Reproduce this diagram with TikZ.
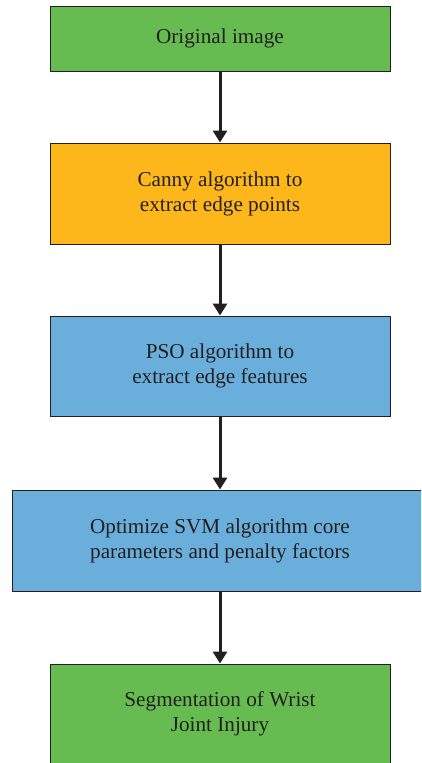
\documentclass[tikz,border=0pt]{standalone}
\usepackage{fontspec}
\setmainfont{Liberation Serif}
\usetikzlibrary{arrows.meta}
\definecolor{gbox}{HTML}{66BC50}
\definecolor{obox}{HTML}{FDB71B}
\definecolor{bbox}{HTML}{6AAEDC}
\definecolor{ink}{HTML}{231F20}
\begin{document}
\begin{tikzpicture}[x=1pt,y=-1pt,
  box/.style={draw=ink,line width=1pt,minimum width=340pt,minimum height=100pt,inner sep=0pt,
    align=center,font=\fontsize{21.2}{25}\selectfont,text=ink},
  conn/.style={draw=ink,line width=3pt,-{Triangle[width=14pt,length=12pt]}}]
\useasboundingbox (0,0) rectangle (421,763);
\begin{scope}
\clip (0,0) rectangle (421,763);
\node[box,fill=gbox,minimum height=65pt] (a) at (220,38.5) {Original image};
\node[box,fill=obox,minimum height=101pt] (b) at (220,193.5) {Canny algorithm to\\extract edge points};
\node[box,fill=bbox] (c) at (220,366) {PSO algorithm to\\extract edge features};
\node[box,fill=bbox,minimum width=416pt,minimum height=101pt] (d) at (220,540.5) {Optimize SVM algorithm core\\parameters and penalty factors};
\node[box,fill=gbox] (e) at (220,714) {Segmentation of Wrist\\Joint Injury};
\draw[conn] (a) -- (b);
\draw[conn] (b) -- (c);
\draw[conn] (c) -- (d);
\draw[conn] (d) -- (e);
\end{scope}
\end{tikzpicture}
\end{document}
